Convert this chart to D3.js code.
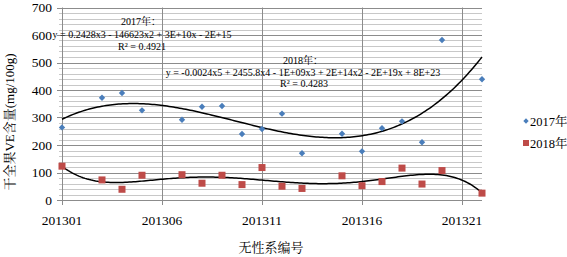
<!DOCTYPE html>
<html>
<head>
<meta charset="utf-8">
<script src="https://cdn.jsdelivr.net/npm/d3@7"></script>
<style>
  body { margin: 0; background: #fff; }
  svg { display: block; }
</style>
</head>
<body>
<svg id="chart" width="567" height="257"></svg>
<script>
// clone codes (x) and VE content for the two years
const codes = [201301, 201303, 201304, 201305, 201307, 201308, 201309, 201310, 201311,
               201312, 201313, 201315, 201316, 201317, 201318, 201319, 201320, 201322];
const ve2017 = [264, 372, 389, 326, 292, 339, 342, 240, 258, 314, 170, 241, 177, 261, 286, 210, 582, 439];
const ve2018 = [123, 73, 39, 90, 92, 61, 90, 56, 118, 50, 42, 88, 52, 67, 116, 58, 107, 25];
const xTicks = [201301, 201306, 201311, 201316, 201321];
const yTicks = [0, 100, 200, 300, 400, 500, 600, 700];
const seriesNames = ["2017年", "2018年"];
const eq2017 = ["2017年：", "y = 0.2428x3 - 146623x2 + 3E+10x - 2E+15", "R² = 0.4921"];
const eq2018 = ["2018年：", "y = -0.0024x5 + 2455.8x4 - 1E+09x3 + 2E+14x2 - 2E+19x + 8E+23", "R² = 0.4283"];

const svg = d3.select("#chart");
const SERIF = '"Liberation Serif", "Noto Serif CJK SC"';
const CJK = '"Noto Serif CJK SC", "Liberation Serif"';

const x = d3.scaleLinear().domain([201301, 201322]).range([62, 482]);
const y = d3.scaleLinear().domain([0, 700]).range([200, 7.5]);

// ── gridlines ──
const minor = d3.range(0, 701, 20).filter(v => v % 100 !== 0);
svg.append("g").selectAll("line").data(minor).join("line")
  .attr("x1", x.range()[0] - 3).attr("x2", x.range()[1])
  .attr("y1", d => Math.round(y(d)) + 0.5).attr("y2", d => Math.round(y(d)) + 0.5)
  .attr("stroke", "#c8c8c8").attr("stroke-width", 1);

svg.append("g").selectAll("line").data(yTicks).join("line")
  .attr("x1", x.range()[0] - 5).attr("x2", x.range()[1])
  .attr("y1", d => Math.round(y(d)) + 0.5).attr("y2", d => Math.round(y(d)) + 0.5)
  .attr("stroke", "#8c8c8c").attr("stroke-width", 1);

svg.append("g").selectAll("line").data(xTicks).join("line")
  .attr("x1", d => Math.round(x(d)) + 0.5).attr("x2", d => Math.round(x(d)) + 0.5)
  .attr("y1", y(700)).attr("y2", y(0) + 5)
  .attr("stroke", "#8c8c8c").attr("stroke-width", 1);

// ── axis labels ──
svg.append("g").selectAll("text").data(yTicks).join("text")
  .attr("x", 52).attr("y", d => y(d) + 4.5)
  .attr("text-anchor", "end")
  .style("font-family", SERIF).style("font-size", "13.5px")
  .text(d => d);

svg.append("g").selectAll("text").data(xTicks).join("text")
  .attr("x", d => x(d)).attr("y", 225)
  .attr("text-anchor", "middle")
  .style("font-family", SERIF).style("font-size", "13.5px")
  .text(d => d);

svg.append("text")
  .attr("x", 271).attr("y", 252)
  .attr("text-anchor", "middle")
  .style("font-family", CJK).style("font-size", "13px")
  .text("无性系编号");

svg.append("text")
  .attr("transform", "translate(14,122) rotate(-90)")
  .attr("text-anchor", "middle")
  .style("font-family", SERIF).style("font-size", "13px")
  .text("干全果VE含量(mg/100g)");

// ── polynomial trend lines (least squares) ──
function polyfit(xs, ys, deg) {
  const t = xs.map(v => (v - 201311.5) / 10);
  const n = deg + 1;
  const A = Array.from({ length: n }, () => new Array(n + 1).fill(0));
  for (let k = 0; k < t.length; k++) {
    for (let i = 0; i < n; i++) {
      for (let j = 0; j < n; j++) A[i][j] += Math.pow(t[k], i + j);
      A[i][n] += ys[k] * Math.pow(t[k], i);
    }
  }
  for (let c = 0; c < n; c++) {
    let p = c;
    for (let r = c + 1; r < n; r++) if (Math.abs(A[r][c]) > Math.abs(A[p][c])) p = r;
    [A[c], A[p]] = [A[p], A[c]];
    for (let r = 0; r < n; r++) {
      if (r === c) continue;
      const f = A[r][c] / A[c][c];
      for (let j = c; j <= n; j++) A[r][j] -= f * A[c][j];
    }
  }
  const coef = A.map((row, i) => row[n] / row[i]);
  return v => {
    const tt = (v - 201311.5) / 10;
    return coef.reduce((s, c, i) => s + c * Math.pow(tt, i), 0);
  };
}

const fit2017 = polyfit(codes, ve2017, 3);
const fit2018 = polyfit(codes, ve2018, 5);
const xs = d3.range(0, 201).map(i => 201301 + i * 21 / 200);
const line = d3.line().x(d => x(d[0])).y(d => y(d[1]));

[fit2017, fit2018].forEach(f => {
  svg.append("path")
    .attr("d", line(xs.map(v => [v, f(v)])))
    .attr("fill", "none")
    .attr("stroke", "#000")
    .attr("stroke-width", 1.5);
});

// ── markers ──
const blue = "#4a7ebb", red = "#be4b48";
svg.append("g").selectAll("path").data(codes).join("path")
  .attr("d", d3.symbol(d3.symbolDiamond2, 26)())
  .attr("transform", (d, i) => `translate(${x(d)},${y(ve2017[i])})`)
  .attr("fill", blue);

svg.append("g").selectAll("rect").data(codes).join("rect")
  .attr("x", d => x(d) - 3.5).attr("y", (d, i) => y(ve2018[i]) - 3.5)
  .attr("width", 7).attr("height", 7)
  .attr("fill", red);

// ── equation labels ──
function eqLabel(lines, xs, ys) {
  svg.append("g").selectAll("text").data(lines).join("text")
    .attr("x", (d, i) => xs[i]).attr("y", (d, i) => ys[i])
    .attr("text-anchor", "middle")
    .style("font-family", SERIF).style("font-size", "10px")
    .attr("fill", "#000")
    .text(d => d);
}
eqLabel(eq2017, [141, 142, 142], [25, 38, 50]);
eqLabel(eq2018, [303, 303, 304], [64, 76, 87]);

// ── legend ──
const legend = svg.append("g").attr("transform", "translate(526, 121)");
legend.append("path")
  .attr("d", d3.symbol(d3.symbolDiamond2, 18)())
  .attr("fill", blue);
legend.append("rect")
  .attr("x", -3).attr("y", 19).attr("width", 6).attr("height", 6)
  .attr("fill", red);
legend.selectAll("text").data(seriesNames).join("text")
  .attr("x", 4).attr("y", (d, i) => 4.5 + i * 22)
  .style("font-family", SERIF).style("font-size", "12.5px")
  .text(d => d);
</script>
</body>
</html>
